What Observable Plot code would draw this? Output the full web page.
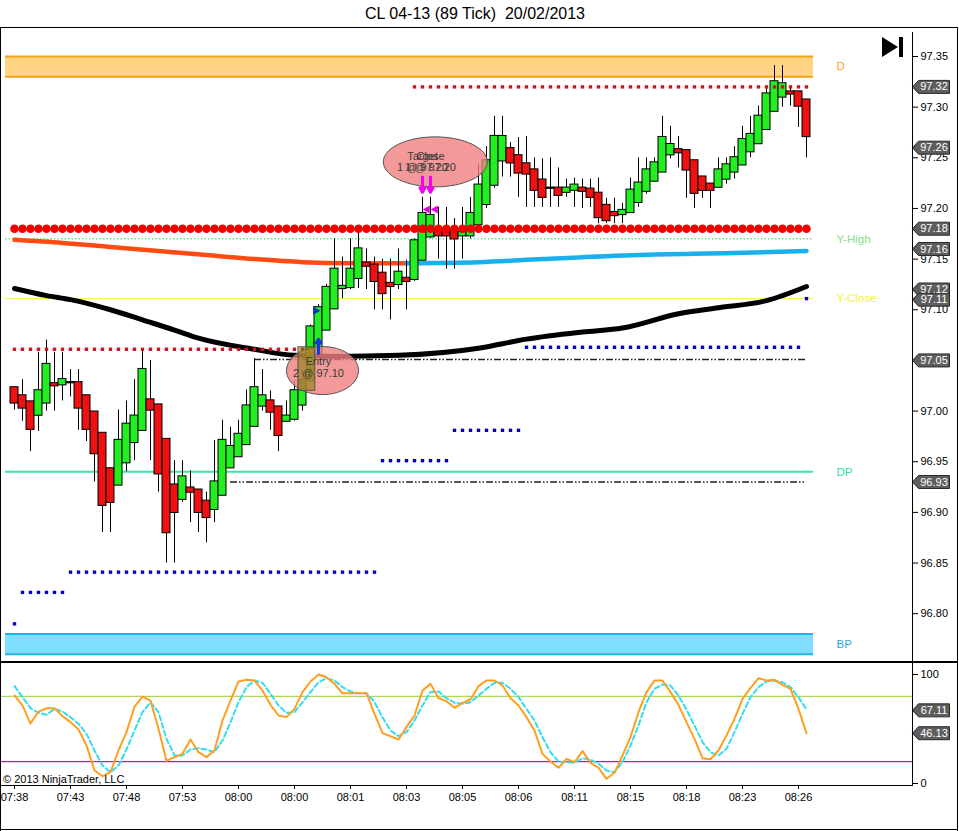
<!DOCTYPE html>
<html><head><meta charset="utf-8">
<script src="https://cdn.jsdelivr.net/npm/d3@7"></script>
<script src="https://cdn.jsdelivr.net/npm/@observablehq/plot@0.6"></script>
<style>
body{margin:0;background:#fff;font-family:"Liberation Sans",Arial,sans-serif;}
#wrap{position:relative;width:959px;height:831px;overflow:hidden;background:#fff}
.abs{position:absolute}
.ln{position:absolute;background:#000}
</style></head><body>
<div id="wrap">
  <div class="abs" id="title" style="left:0;top:0;width:950px;text-align:center;font-size:16px;line-height:27px;white-space:pre;"></div>
  <div id="main" class="abs" style="left:0;top:27px"></div>
  <div id="stoch" class="abs" style="left:0;top:662px"></div>
  <div class="abs" id="copy" style="left:3px;top:773px;font-size:11px;line-height:13px;color:#000">© 2013 NinjaTrader, LLC</div>
  <div class="ln" style="left:0;top:27px;width:958px;height:1px"></div>
  <div class="ln" style="left:0;top:27px;width:1px;height:804px"></div>
  <div class="ln" style="left:957px;top:27px;width:1px;height:804px"></div>
  <div class="ln" style="left:0;top:829px;width:958px;height:1px"></div>
  <div class="ln" style="left:0;top:661px;width:958px;height:2px"></div>
  <div class="ln" style="left:912px;top:32px;width:1px;height:754px"></div>
  <div class="ln" style="left:0;top:785px;width:913px;height:1px"></div>
  <svg class="abs" style="left:880px;top:36px" width="26" height="23"><polygon points="2,1 18,11 2,21" fill="#000"/><rect x="19" y="1" width="4" height="20" fill="#000"/></svg>
</div>
<script>
// ---------------- DATA ----------------
const title = "CL 04-13 (89 Tick)  20/02/2013";
const xTickLabels = ["07:38","07:43","07:48","07:53","08:00","08:00","08:01","08:03","08:05","08:06","08:11","08:15","08:18","08:23","08:26"];
const xTickBars = [0,7,14,21,28,35,42,49,56,63,70,77,84,91,98];
const yTicks = [96.80,96.85,96.90,96.95,97.00,97.05,97.10,97.15,97.20,97.25,97.30,97.35];

const open = [97.023,97.015,97.009,96.996,97.008,97.027,97.026,97.028,97.028,97.015,
96.999,96.978,96.943,96.927,96.949,96.969,96.981,97.011,97.006,96.972,
96.927,96.913,96.924,96.922,96.911,96.903,96.917,96.944,96.955,96.967,
96.985,97.005,97.010,97.004,96.990,96.992,97.006,97.030,97.057,97.080,
97.101,97.121,97.122,97.131,97.146,97.144,97.136,97.126,97.125,97.131,
97.130,97.149,97.172,97.178,97.180,97.178,97.173,97.173,97.184,97.204,
97.223,97.247,97.259,97.252,97.244,97.238,97.228,97.220,97.220,97.216,
97.218,97.220,97.219,97.215,97.203,97.196,97.194,97.196,97.206,97.217,
97.227,97.236,97.253,97.258,97.257,97.247,97.231,97.224,97.221,97.229,
97.236,97.243,97.256,97.264,97.278,97.296,97.310,97.315,97.315,97.307];
const high = [97.023,97.031,97.009,97.058,97.070,97.058,97.058,97.041,97.041,97.015,
96.999,96.978,96.943,97.001,97.010,97.031,97.061,97.050,97.006,96.972,
96.951,96.951,96.941,96.922,96.920,96.971,96.991,96.984,96.991,97.021,
97.052,97.041,97.020,97.004,97.010,97.030,97.040,97.085,97.105,97.125,
97.170,97.152,97.170,97.176,97.160,97.152,97.150,97.150,97.160,97.149,
97.170,97.211,97.211,97.201,97.201,97.190,97.201,97.211,97.244,97.261,
97.291,97.291,97.265,97.270,97.271,97.250,97.249,97.250,97.240,97.229,
97.230,97.229,97.229,97.230,97.210,97.210,97.205,97.230,97.250,97.250,
97.250,97.291,97.281,97.271,97.257,97.247,97.231,97.224,97.250,97.250,
97.261,97.281,97.291,97.301,97.321,97.341,97.341,97.320,97.315,97.307];
const low = [97.001,96.990,96.960,96.980,97.000,97.000,97.010,97.014,96.981,96.970,
96.930,96.880,96.880,96.927,96.940,96.951,96.981,96.951,96.920,96.850,
96.850,96.910,96.890,96.880,96.870,96.890,96.917,96.944,96.955,96.967,
96.985,97.000,96.981,96.960,96.989,96.990,97.000,97.030,97.055,97.080,
97.100,97.111,97.120,97.121,97.120,97.100,97.100,97.090,97.120,97.100,
97.128,97.149,97.170,97.150,97.140,97.140,97.150,97.170,97.180,97.200,
97.220,97.231,97.231,97.211,97.201,97.201,97.201,97.201,97.201,97.211,
97.201,97.200,97.201,97.185,97.185,97.185,97.185,97.196,97.201,97.214,
97.227,97.236,97.249,97.240,97.210,97.200,97.210,97.200,97.221,97.224,
97.229,97.243,97.250,97.264,97.278,97.296,97.300,97.301,97.280,97.250];
const close = [97.008,97.003,96.982,97.020,97.046,97.025,97.031,97.028,97.003,96.982,
96.958,96.907,96.910,96.971,96.987,96.995,97.041,97.001,96.938,96.880,
96.900,96.935,96.920,96.900,96.895,96.930,96.971,96.965,96.977,97.005,
97.023,97.015,96.999,96.976,96.995,97.020,97.030,97.083,97.102,97.122,
97.140,97.123,97.140,97.160,97.143,97.128,97.116,97.123,97.137,97.128,
97.168,97.195,97.193,97.173,97.173,97.170,97.176,97.195,97.223,97.247,
97.271,97.271,97.245,97.235,97.234,97.218,97.211,97.220,97.213,97.220,
97.223,97.217,97.211,97.191,97.188,97.193,97.198,97.218,97.225,97.238,
97.245,97.270,97.263,97.255,97.238,97.215,97.218,97.218,97.238,97.243,
97.250,97.268,97.273,97.291,97.313,97.325,97.323,97.313,97.301,97.271];

const stochK = [80.7,71.6,55,66,69,69,61.8,56.3,49.5,34.9,
11.9,6.7,10.4,30.3,47.1,70.6,79.8,76.1,50.2,20.8,
24.2,27.2,40.4,28.7,24.2,30.3,57.8,76.1,93.6,95.1,
94.5,85.3,72.2,62.4,60.9,68.5,83.8,93.6,100,97.5,
91.4,82.8,82.8,82.8,82.8,63.9,46.2,43.4,40.4,51.7,
62.4,85.3,91.4,78.3,75.5,69.4,74,77.1,89.3,94.5,
94.5,89.9,78.3,71.6,60.9,48.6,27.2,20.2,14.4,22.6,
19.6,29.7,19,14.4,4.3,9.8,25.7,42.5,65.4,83.8,
94.5,94.5,83.8,72.2,56.3,41,23.2,22.3,30.3,44,
59.3,77.7,87.8,96.6,94.5,95.1,90.5,86.9,68.5,46.1];
const stochD = [89.3,79.2,69.1,64.8,63,68.5,66,60.8,54.8,45.6,
30.3,16.5,10.4,16.5,31.2,48.6,65.4,74.6,65.4,41,
25.7,25.7,31.2,32.4,31.2,28.7,39.4,56.2,74.6,88.4,
94.5,92.4,82.3,71.6,64.9,65.4,74.6,83.8,92.9,96.6,
94.5,88.4,84.4,82.8,82.8,74.6,60.8,48.6,43.4,47.1,
57.8,71.6,83.8,84.4,78.3,74,73.1,74.6,80.7,86.9,
92.4,92.4,86.9,79.2,68.5,57.8,42.5,28.7,20.2,19.6,
19,23.2,22,18.1,11.9,10.4,19.6,34.9,53.2,74.6,
86.9,90.8,89.9,80.7,67.9,53.2,37.9,28.7,25.7,31.8,
47.1,63.9,79.2,88.4,93.6,94.5,92.9,88.4,79.2,67.9];

// moving averages read at sampled bars
const maFallBars = [0,6,12,18,24,30,36,42,49];
const maFallVals = [97.169,97.166,97.162,97.158,97.154,97.150,97.147,97.146,97.146];
const maRiseBars = [49,58,66,78,90,99];
const maRiseVals = [97.146,97.147,97.150,97.154,97.156,97.158];
const maSlowBars = [0,4,7,12,16,20,23,30,35,40,48,58,64,71,76,83,88,94,99];
const maSlowVals = [97.121,97.114,97.110,97.100,97.090,97.080,97.072,97.061,97.055,97.054,97.055,97.062,97.071,97.078,97.082,97.096,97.102,97.109,97.123];

// stepped stop dots [fromBar, toBar, price]
const blueStops = [[0,0,96.790],[1,6,96.821],[7,45,96.841],[46,54,96.951],[55,63,96.981],[64,98,97.063],[99,99,97.111]];
const redStops = [[0,36,97.061],[50,99,97.320]];
const pivotDots = [[0,99,97.180]];

const bands = [{label:"D", lo:97.33, hi:97.35}, {label:"BP", lo:96.76, hi:96.78}];
const levels = [{label:"Y-High", v:97.170}, {label:"Y-Close", v:97.111}, {label:"DP", v:96.940}];
const dashLevels = [{v:97.051, from:30, to:99}, {v:96.930, from:27, to:99}];
const priceTags = [97.32, 97.26, 97.18, 97.16, 97.12, 97.11, 97.05, 96.93];
const stochTags = [67.11, 46.13];
const stochLevels = [80, 20];

const execs = [
  {kind:"entry",  bar:38, price:97.10, text:"Entry\n2 @ 97.10"},
  {kind:"target", bar:51, price:97.20, text:"Target\n1 @ 97.20"},
  {kind:"close",  bar:52, price:97.20, text:"Close\n1 @ 97.20"}
];

// ---------------- LAYOUT / STYLE ----------------
document.getElementById("title").textContent = title;
const X0 = -1.75, X1 = 112.25;           // x pixel 0..912, bar i at 14+8i
const LX1 = -1.125, LX2 = 99.875;        // extent of level lines
const FONT = "'Liberation Sans', Arial, sans-serif";
const UP = "#22EE22", DOWN = "#EE1111";

const candles = open.map((o,i)=>({i, o, h:high[i], l:low[i], c:close[i]}));
const expand = steps => steps.flatMap(([a,b,v]) => d3.range(a,b+1).map(i=>({i,v})));
const pairs = (bars, vals) => bars.map((b,k)=>({i:b, v:vals[k]}));

const labelColor = {"D":"#F5A623","BP":"#1EA8E6","Y-High":"#88E088","Y-Close":"#F2F040","DP":"#33DDA8"};
const bandFill = {"D":"#FFD483","BP":"#80DEFF"};
const bandEdge = {"D":"#F5A21B","BP":"#1FB3EA"};
const levelStyle = {
  "Y-High": {stroke:"#44CC44", strokeWidth:1, dash:"1.5,2"},
  "Y-Close": {stroke:"#F0F050", strokeWidth:1, dash:null},
  "DP": {stroke:"#33E6AA", strokeWidth:2, dash:null}
};
const labelPos = [
  {label:"D", v:97.34}, {label:"Y-High", v:97.170}, {label:"Y-Close", v:97.111},
  {label:"DP", v:96.940}, {label:"BP", v:96.77}
];
const bandEdges = bands.flatMap(b => [{label:b.label, v:b.lo}, {label:b.label, v:b.hi}]);

function ellipseSymbol(rx, ry) {
  const k = 0.5523;
  return {draw(ctx) {
    ctx.moveTo(rx, 0);
    ctx.bezierCurveTo(rx, ry*k, rx*k, ry, 0, ry);
    ctx.bezierCurveTo(-rx*k, ry, -rx, ry*k, -rx, 0);
    ctx.bezierCurveTo(-rx, -ry*k, -rx*k, -ry, 0, -ry);
    ctx.bezierCurveTo(rx*k, -ry, rx, -ry*k, rx, 0);
    ctx.closePath();
  }};
}
const tagSymbol = {draw(ctx){
  ctx.moveTo(0,0); ctx.lineTo(6,-6.5); ctx.lineTo(37,-6.5); ctx.lineTo(37,6.5); ctx.lineTo(6,6.5); ctx.closePath();
}};

const entry = execs.find(e=>e.kind==="entry");
const exits = execs.filter(e=>e.kind!=="entry");
// annotation geometry (relative to executions)
const ellipses = [
  {i: entry.bar + 0.5, v: entry.price - 0.060, sym: ellipseSymbol(36, 24)},
  {i: exits[0].bar + 1.6, v: exits[0].price + 0.046, sym: ellipseSymbol(52, 25)}
];
const execText = [
  {i: entry.bar, v: entry.price - 0.057, text: entry.text},
  ...exits.map(e=>({i: e.bar, v: e.price + 0.046, text: e.text}))
];

const mainPlot = Plot.plot({
  width: 959, height: 635,
  marginLeft: 0, marginRight: 47, marginTop: 0, marginBottom: 0,
  x: {domain: [X0, X1], range: [0, 912], axis: null},
  y: {domain: [96.80, 97.35], range: [586.2, 29], axis: null},
  style: {fontFamily: FONT, fontSize: "11px", color: "#000", background: "transparent", overflow: "visible"},
  marks: [
    // bands
    Plot.rect(bands, {x1: d=>LX1, x2: d=>LX2, y1: "lo", y2: "hi", fill: d => bandFill[d.label]}),
    Plot.ruleY(bandEdges, {y:"v", x1: d=>LX1, x2: d=>LX2, stroke: d => bandEdge[d.label], strokeWidth: 2}),
    // thin level lines
    ...levels.map(l => Plot.ruleY([l], {y: "v", x1: d=>LX1, x2: d=>LX2,
      stroke: levelStyle[l.label].stroke, strokeWidth: levelStyle[l.label].strokeWidth,
      strokeDasharray: levelStyle[l.label].dash})),
    // moving averages
    Plot.line(pairs(maSlowBars, maSlowVals), {x:"i", y:"v", stroke:"#000", strokeWidth:5, curve:"monotone-x"}),
    Plot.line(pairs(maFallBars, maFallVals), {x:"i", y:"v", stroke:"#FF4A12", strokeWidth:4.5, curve:"monotone-x"}),
    Plot.line(pairs(maRiseBars, maRiseVals), {x:"i", y:"v", stroke:"#1AB0EE", strokeWidth:4.5, curve:"monotone-x"}),
    // dash-dot lines
    Plot.ruleY(dashLevels, {y:"v", x1:"from", x2:"to", stroke:"#222", strokeWidth:1.5, strokeDasharray:"7,2,1.5,2,1.5,2"}),
    // candles
    Plot.ruleX(candles, {x:"i", y1:"l", y2:"h", stroke:"#000", strokeWidth:1}),
    Plot.rect(candles, {x1: d=>d.i-0.5, x2: d=>d.i+0.5, y1:"o", y2:"c",
      fill: d => d.c > d.o ? UP : d.c < d.o ? DOWN : "#000",
      stroke:"#000", strokeWidth:1, insetTop:-0.6, insetBottom:-0.6}),
    // dot plots
    Plot.dot(expand(pivotDots), {x:"i", y:"v", r:4.3, fill:"#F20000", symbol:"circle"}),
    Plot.dot(expand(redStops), {x:"i", y:"v", r:1.9, fill:"#CC1420", symbol:"square"}),
    Plot.dot(expand(blueStops), {x:"i", y:"v", r:1.9, fill:"#0000C8", symbol:"square"}),
    // executions
    Plot.dot(ellipses, {x:"i", y:"v", symbol: d=>d.sym, fill:"#F08080", fillOpacity:0.8, stroke:"#555", strokeWidth:1}),
    Plot.rect([entry], {x1: d=>d.bar-2.5, x2: d=>d.bar-0.4, y1: d=>d.price-0.080, y2: d=>d.price-0.037,
      fill:"#808000", fillOpacity:0.55, stroke:"#555", strokeWidth:1}),
    Plot.arrow([entry], {x: "bar", y1: d=>d.price-0.043, y2: d=>d.price-0.029, stroke:"#1238E0", strokeWidth:3, headLength:5}),
    Plot.dot([entry], {x:"bar", y: d=>d.price-0.001, dx:-3, symbol:"triangle", rotate:90, r:3.2, fill:"#1030D0"}),
    Plot.arrow(exits, {x:"bar", y1: d=>d.price+0.031, y2: d=>d.price+0.016, stroke:"#F000F0", strokeWidth:3, headLength:6}),
    Plot.dot(exits, {x:"bar", y: d=>d.price-0.001, dx:5, symbol:"triangle", rotate:-90, r:3, fill:"#E000E0"}),
    Plot.text(execText, {x:"i", y:"v", text:"text", fontSize:11, fill:"#3A3A3A", lineHeight:1.05}),
    // right labels
    Plot.text(labelPos, {x: d=>102.75, y:"v", text:"label", textAnchor:"start", fontSize:11.5, fill: d=>labelColor[d.label]}),
    // axis
    Plot.axisY({anchor:"right", ticks: yTicks, tickFormat: d=>d.toFixed(2), tickSize:5, tickPadding:3, fontSize:11, label:null}),
    // price tags
    Plot.dot(priceTags, {x: d=>X1, y: d=>d, symbol: tagSymbol, fill:"#5E5E5E", stroke:"#2A2A2A", strokeWidth:1}),
    Plot.text(priceTags, {x: d=>X1, y: d=>d, dx:21.5, text: d=>d.toFixed(2), fill:"#fff", fontSize:11})
  ]
});
document.getElementById("main").appendChild(mainPlot);

const kData = stochK.map((v,i)=>({i,v}));
const dData = stochD.map((v,i)=>({i,v}));
const stochPlot = Plot.plot({
  width: 959, height: 169,
  marginLeft: 0, marginRight: 47, marginTop: 0, marginBottom: 46,
  x: {domain: [X0, X1], range: [0, 912], axis: null},
  y: {domain: [0, 100], range: [121, 12], axis: null},
  style: {fontFamily: FONT, fontSize: "11px", color: "#000", background: "transparent", overflow: "visible"},
  marks: [
    Plot.ruleY(stochLevels, {y: d=>d, stroke: d => d===80 ? "#9ACD32" : "#800080", strokeWidth:1}),
    Plot.line(dData, {x:"i", y:"v", stroke:"#33DDEE", strokeWidth:2, strokeDasharray:"5,3"}),
    Plot.line(kData, {x:"i", y:"v", stroke:"#FF9F20", strokeWidth:2}),
    Plot.axisX({anchor:"bottom", ticks: xTickBars, tickFormat: d => xTickLabels[Math.round(d/7)], tickSize:4, tickPadding:4, fontSize:11, label:null}),
    Plot.axisY({anchor:"right", ticks:[0,100], tickFormat: d=>String(d), tickSize:5, tickPadding:3, fontSize:11, label:null}),
    Plot.dot(stochTags, {x: d=>X1, y: d=>d, symbol: tagSymbol, fill:"#5E5E5E", stroke:"#2A2A2A", strokeWidth:1}),
    Plot.text(stochTags, {x: d=>X1, y: d=>d, dx:21.5, text: d=>d.toFixed(2), fill:"#fff", fontSize:11})
  ]
});
document.getElementById("stoch").appendChild(stochPlot);
</script>
</body></html>
